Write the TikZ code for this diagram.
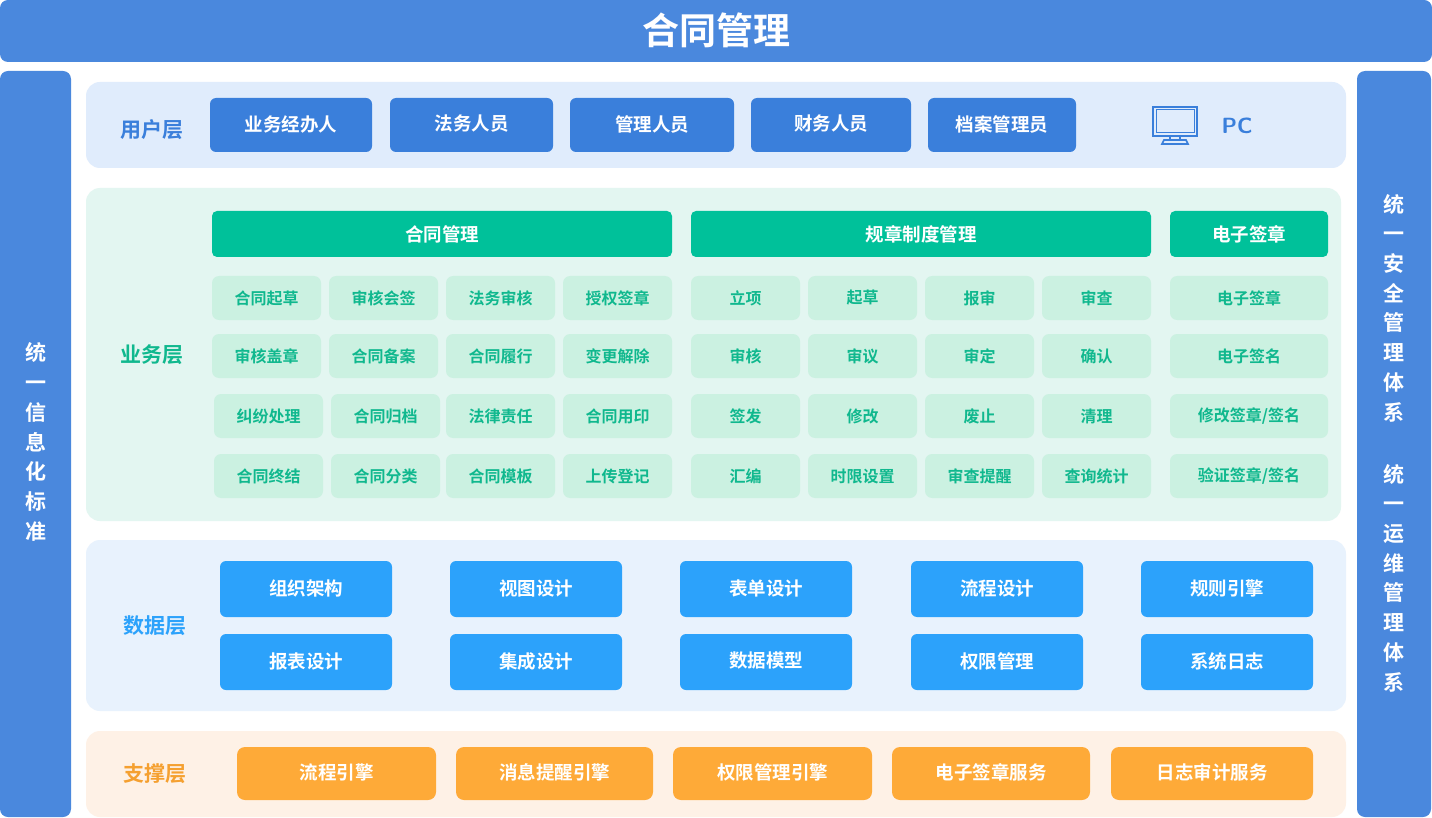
\documentclass[tikz,border=0pt]{standalone}
\usepackage{fontspec}
\newfontfamily\cjk{Noto Sans CJK SC}[BoldFont=* Bold]
\begin{document}
\begin{tikzpicture}[x=1pt,y=-1pt,font=\cjk\bfseries]
\definecolor{topb}{HTML}{4A88DD}
\definecolor{userbg}{HTML}{E0ECFC}
\definecolor{userbtn}{HTML}{3A7FDB}
\definecolor{bizbg}{HTML}{E3F6F1}
\definecolor{bizhd}{HTML}{00C19A}
\definecolor{bizcell}{HTML}{CBF1E1}
\definecolor{biztxt}{HTML}{10B88E}
\definecolor{databg}{HTML}{E8F2FD}
\definecolor{databtn}{HTML}{2CA2FB}
\definecolor{suppbg}{HTML}{FEF1E6}
\definecolor{suppbtn}{HTML}{FEAA38}
\definecolor{supptxt}{HTML}{F5A030}
\tikzset{btxt/.style={text=white,font=\cjk\bfseries\fontsize{18.5pt}{18.5pt}\selectfont},
  side/.style={text=white,align=center,font=\cjk\bfseries\fontsize{21pt}{29.7pt}\selectfont},
  lay/.style={font=\cjk\bfseries\fontsize{21pt}{21pt}\selectfont},
  cell/.style={text=biztxt,font=\cjk\bfseries\fontsize{16pt}{16pt}\selectfont}}
\useasboundingbox (0,0) rectangle (1432,818);
\fill[white] (0,0) rectangle (1432,818);
% top
\fill[topb,rounded corners=8pt] (0,0) rectangle (1432,62);
\node[text=white,font=\cjk\bfseries\fontsize{37pt}{37pt}\selectfont] (title) at (716,30) {合同管理};
% side bars
\fill[topb,rounded corners=8pt] (0,71) rectangle (71,817);
\fill[topb,rounded corners=8pt] (1357,71) rectangle (1431,817);
\node[side] (lt) at (35.5,442) {统\\一\\信\\息\\化\\标\\准};
\node[side] (rt1) at (1394,308) {统\\一\\安\\全\\管\\理\\体\\系};
\node[side] (rt2) at (1394,578) {统\\一\\运\\维\\管\\理\\体\\系};
% panels
\fill[userbg,rounded corners=14pt] (86,82) rectangle (1346,168);
\fill[bizbg,rounded corners=14pt] (86,188) rectangle (1341,521);
\fill[databg,rounded corners=14pt] (86,540) rectangle (1346,711);
\fill[suppbg,rounded corners=14pt] (86,731) rectangle (1346,817);
\node[lay,text=userbtn] (l1) at (152,130) {用户层};
\node[lay,text=biztxt] (l2) at (152,355) {业务层};
\node[lay,text=databtn] (l3) at (155,626) {数据层};
\node[lay,text=supptxt] (l4) at (155,774) {支撑层};
% user buttons
\foreach \a/\b/\t in {210/372/业务经办人,390/553/法务人员,570/734/管理人员,751/911/财务人员,928/1076/档案管理员}{
  \fill[userbtn,rounded corners=6pt] (\a,98) rectangle (\b,152);
  \node[btxt] (u\a) at ({(\a+\b)/2},124) {\t};}
% PC icon
\begin{scope}[draw=userbtn,line width=1.6pt]
\draw (1153,107) rectangle (1197,136);
\draw[line width=1pt] (1156,110) rectangle (1194,133);
\draw (1170,136) -- (1170,141) (1180,136) -- (1180,141);
\draw (1162,144) -- (1164,140) -- (1186,140) -- (1188,144) -- cycle;
\end{scope}
\node[text=userbtn,font=\sffamily\bfseries\fontsize{22pt}{22pt}\selectfont] (pc) at (1237,126) {PC};
% business headers
\foreach \a/\b/\t in {212/672/合同管理,691/1151/规章制度管理,1170/1328/电子签章}{
  \fill[bizhd,rounded corners=5pt] (\a,211) rectangle (\b,257);
  \node[btxt] (h\a) at ({(\a+\b)/2},234) {\t};}
\newcommand\cellrow[2]{%
 \foreach \a/\t in {#2}{
  \pgfmathsetmacro\b{\a==1170?1328:\a+109}
  \fill[bizcell,rounded corners=7pt] (\a,#1) rectangle (\b,#1+44);
  \node[cell] (c\a x#1) at ({(\a+\b)/2},#1+22) {\t};}}
\cellrow{276}{212/合同起草,329/审核会签,446/法务审核,563/授权签章,691/立项,808/起草,925/报审,1042/审查,1170/电子签章}
\cellrow{334}{212/审核盖章,329/合同备案,446/合同履行,563/变更解除,691/审核,808/审议,925/审定,1042/确认,1170/电子签名}
\cellrow{394}{214/纠纷处理,331/合同归档,446/法律责任,563/合同用印,691/签发,808/修改,925/废止,1042/清理,1170/{修改签章/签名}}
\cellrow{454}{214/合同终结,331/合同分类,446/合同模板,563/上传登记,691/汇编,808/时限设置,925/审查提醒,1042/查询统计,1170/{验证签章/签名}}
% data buttons
\foreach \y/\row in {561/{220/组织架构,450/视图设计,680/表单设计,911/流程设计,1141/规则引擎},634/{220/报表设计,450/集成设计,680/数据模型,911/权限管理,1141/系统日志}}{
  \foreach \a/\t in \row {
   \fill[databtn,rounded corners=6pt] (\a,\y) rectangle (\a+172,\y+56);
   \node[btxt] (d\a x\y) at (\a+86,\y+27) {\t};}}
% support
\foreach \a/\b/\t in {237/436/流程引擎,456/653/消息提醒引擎,673/872/权限管理引擎,892/1090/电子签章服务,1111/1313/日志审计服务}{
  \fill[suppbtn,rounded corners=8pt] (\a,747) rectangle (\b,800);
  \node[btxt] (s\a) at ({(\a+\b)/2},772) {\t};}
\end{tikzpicture}
\end{document}
